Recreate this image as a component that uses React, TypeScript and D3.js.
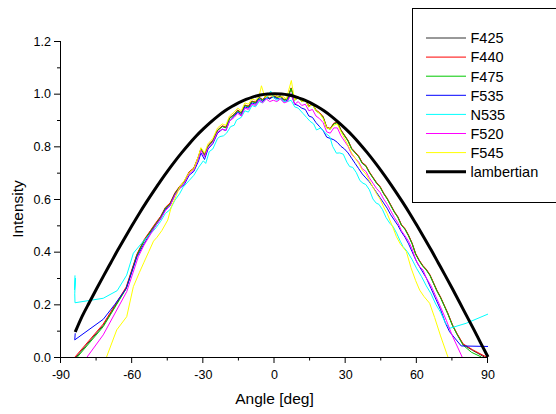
import React from "react";
import * as d3 from "d3";

type Pt = [number, number];

const ANGLE_TICKS = [-90, -60, -30, 0, 30, 60, 90];
const ANGLE_MINOR = [-75, -45, -15, 15, 45, 75];
const INTENSITY_TICKS = [0, 0.2, 0.4, 0.6, 0.8, 1.0, 1.2];
const INTENSITY_MINOR = [0.1, 0.3, 0.5, 0.7, 0.9, 1.1];
const SERIES_NAMES = ["F425", "F440", "F475", "F535", "N535", "F520", "F545", "lambertian"];
const SERIES_COLORS = ["#333333", "#ff0000", "#00c800", "#0000ff", "#00ffff", "#ff00ff", "#ffff00", "#000000"];

const F425: Pt[] = [[-83.6,0],[-72.2,0.12],[-62.5,0.262],[-58,0.388],[-55,0.442],[-52,0.482],[-50,0.507],[-48,0.532],[-46,0.566],[-44,0.582],[-42,0.621],[-40,0.646],[-38,0.666],[-36,0.701],[-34,0.716],[-32,0.761],[-31,0.79],[-29.5,0.766],[-28,0.801],[-26,0.821],[-24,0.861],[-22,0.876],[-20.5,0.871],[-19,0.906],[-17,0.921],[-15.5,0.936],[-14,0.926],[-12.5,0.956],[-11,0.951],[-9.5,0.971],[-8,0.966],[-6.5,0.985],[-5,0.976],[-3.5,0.99],[-2,0.981],[-0.5,0.99],[1,0.985],[2.5,0.99],[4,0.976],[5.5,0.981],[7,1.02],[8.5,0.976],[10,0.986],[11.5,0.971],[13,0.976],[14.5,0.951],[16,0.961],[17.5,0.936],[19,0.926],[20.5,0.911],[22,0.871],[23.5,0.866],[25,0.886],[26.5,0.891],[28,0.861],[29.5,0.841],[31,0.821],[32.5,0.791],[34,0.776],[35.5,0.761],[37,0.736],[38.5,0.726],[40,0.701],[41.5,0.681],[43,0.661],[44.5,0.646],[46,0.621],[47.5,0.601],[49,0.576],[50.5,0.551],[52,0.531],[53.5,0.501],[55,0.486],[56.5,0.461],[58,0.431],[59.5,0.391],[61,0.366],[62.5,0.346],[64,0.331],[65.5,0.311],[67,0.281],[68.5,0.251],[70,0.226],[71.5,0.196],[73,0.166],[75,0.121],[77,0.086],[79.5,0.047],[83.5,0.025],[88.5,0]];

const F440: Pt[] = [[-84.1,0],[-72.2,0.125],[-62.5,0.266],[-58,0.39],[-55,0.445],[-52,0.484],[-50,0.51],[-48,0.534],[-46,0.568],[-44,0.585],[-42,0.623],[-40,0.648],[-38,0.668],[-36,0.703],[-34,0.718],[-32,0.763],[-31,0.792],[-29.5,0.768],[-28,0.803],[-26,0.823],[-24,0.862],[-22,0.878],[-20.5,0.873],[-19,0.908],[-17,0.922],[-15.5,0.938],[-14,0.928],[-12.5,0.957],[-11,0.953],[-9.5,0.972],[-8,0.968],[-6.5,0.987],[-5,0.978],[-3.5,0.992],[-2,0.983],[-0.5,0.992],[1,0.987],[2.5,0.992],[4,0.978],[5.5,0.983],[7,1.022],[8.5,0.978],[10,0.987],[11.5,0.973],[13,0.978],[14.5,0.953],[16,0.962],[17.5,0.938],[19,0.928],[20.5,0.913],[22,0.873],[23.5,0.868],[25,0.888],[26.5,0.892],[28,0.863],[29.5,0.843],[31,0.823],[32.5,0.793],[34,0.778],[35.5,0.763],[37,0.738],[38.5,0.728],[40,0.703],[41.5,0.683],[43,0.663],[44.5,0.648],[46,0.623],[47.5,0.603],[49,0.578],[50.5,0.553],[52,0.533],[53.5,0.503],[55,0.488],[56.5,0.463],[58,0.433],[59.5,0.393],[61,0.368],[62.5,0.348],[64,0.333],[65.5,0.313],[67,0.283],[68.5,0.253],[70,0.228],[71.5,0.198],[73,0.168],[75,0.123],[77,0.088],[79.5,0.05],[83.6,0.027],[89.3,0]];

const F475: Pt[] = [[-83.1,0],[-72.2,0.115],[-62.5,0.26],[-58,0.385],[-55,0.44],[-52,0.48],[-50,0.505],[-48,0.53],[-46,0.565],[-44,0.58],[-42,0.62],[-40,0.645],[-38,0.665],[-36,0.7],[-34,0.715],[-32,0.76],[-31,0.79],[-29.5,0.765],[-28,0.8],[-26,0.82],[-24,0.86],[-22,0.875],[-20.5,0.87],[-19,0.905],[-17,0.92],[-15.5,0.935],[-14,0.925],[-12.5,0.955],[-11,0.95],[-9.5,0.97],[-8,0.965],[-6.5,0.985],[-5,0.975],[-3.5,0.99],[-2,0.98],[-0.5,0.99],[1,0.985],[2.5,0.99],[4,0.975],[5.5,0.98],[7,1.02],[8.5,0.975],[10,0.985],[11.5,0.97],[13,0.975],[14.5,0.95],[16,0.96],[17.5,0.935],[19,0.925],[20.5,0.91],[22,0.87],[23.5,0.865],[25,0.885],[26.5,0.89],[28,0.86],[29.5,0.84],[31,0.82],[32.5,0.79],[34,0.775],[35.5,0.76],[37,0.735],[38.5,0.725],[40,0.7],[41.5,0.68],[43,0.66],[44.5,0.645],[46,0.62],[47.5,0.6],[49,0.575],[50.5,0.55],[52,0.53],[53.5,0.5],[55,0.485],[56.5,0.46],[58,0.43],[59.5,0.39],[61,0.365],[62.5,0.345],[64,0.33],[65.5,0.31],[67,0.28],[68.5,0.25],[70,0.225],[71.5,0.195],[73,0.165],[75,0.12],[77,0.085],[79.5,0.045],[83,0.018],[87.2,0]];

const F535: Pt[] = [[-84,0.09],[-84.2,0.065],[-72.2,0.143],[-67.3,0.2],[-62.5,0.26],[-58,0.38],[-55,0.43],[-52,0.475],[-50,0.5],[-48,0.525],[-46,0.56],[-44,0.575],[-42,0.615],[-40,0.64],[-38,0.655],[-36,0.69],[-34,0.705],[-32,0.745],[-31,0.775],[-29.5,0.75],[-28,0.79],[-26,0.81],[-24,0.85],[-22,0.865],[-20.5,0.86],[-19,0.895],[-17,0.915],[-15.5,0.93],[-14,0.92],[-12.5,0.95],[-11,0.945],[-9.5,0.965],[-8,0.96],[-6.5,0.98],[-5,0.97],[-3.5,0.985],[-2,0.98],[-0.5,0.99],[1,0.98],[2.5,0.985],[4,0.97],[5.5,0.975],[7,1.0],[8.5,0.96],[10,0.955],[11.5,0.945],[13,0.94],[14.5,0.915],[16,0.91],[17.5,0.89],[19,0.875],[20.5,0.86],[22,0.835],[23.5,0.83],[25,0.825],[26.5,0.815],[28,0.8],[29.5,0.79],[31,0.775],[32.5,0.755],[34,0.735],[35.5,0.715],[37,0.695],[38.5,0.68],[40,0.665],[41.5,0.645],[43,0.625],[44.5,0.605],[46,0.585],[47.5,0.565],[49,0.54],[50.5,0.52],[52,0.5],[53.5,0.475],[55,0.455],[56.5,0.43],[58,0.4],[60,0.36],[62,0.33],[64,0.3],[66,0.26],[68,0.22],[70,0.18],[72,0.13],[73.8,0.096],[78.7,0.042],[90,0.04]];

const N535: Pt[] = [[-84.1,0.31],[-84.3,0.255],[-83.9,0.3],[-84.2,0.24],[-84.1,0.206],[-72.2,0.223],[-66.3,0.252],[-62.3,0.311],[-59.5,0.394],[-55.3,0.44],[-52,0.47],[-50,0.49],[-48,0.515],[-46,0.545],[-44,0.56],[-42,0.595],[-40,0.62],[-38.5,0.645],[-36,0.67],[-34,0.69],[-32,0.72],[-30,0.745],[-29,0.735],[-27.5,0.78],[-26,0.79],[-24,0.83],[-23,0.837],[-21.5,0.84],[-20.2,0.85],[-18.5,0.875],[-17,0.88],[-16,0.9],[-14,0.91],[-12.5,0.935],[-11,0.93],[-9.5,0.955],[-8,0.95],[-6.5,0.97],[-5,0.965],[-3.5,0.98],[-1.6,1.01],[-0.5,0.985],[1,0.975],[2.5,0.98],[4,0.97],[5.5,0.97],[7,0.975],[8.5,0.95],[10,0.945],[12,0.925],[13.5,0.91],[15,0.895],[16.5,0.885],[17.7,0.862],[19.5,0.87],[21.5,0.85],[23.3,0.837],[24.5,0.8],[26.1,0.774],[27.5,0.775],[29,0.77],[30.5,0.74],[31.7,0.723],[33,0.72],[34.5,0.7],[36,0.67],[37.3,0.66],[38.5,0.655],[40,0.635],[41.5,0.6],[42.9,0.584],[44,0.58],[45.5,0.56],[47,0.53],[48.6,0.508],[50,0.495],[51.5,0.47],[53,0.44],[54.2,0.419],[56,0.4],[58,0.37],[60,0.335],[62,0.305],[64,0.27],[66,0.24],[68,0.2],[70,0.17],[72,0.13],[73.8,0.109],[80.8,0.128],[90,0.163]];

const F520: Pt[] = [[-79,0],[-72.2,0.084],[-62.3,0.248],[-57.4,0.381],[-55,0.425],[-52,0.47],[-50,0.5],[-48,0.525],[-46,0.555],[-44,0.575],[-42,0.615],[-40,0.64],[-38,0.66],[-36,0.695],[-34,0.71],[-32,0.755],[-31,0.785],[-29.5,0.76],[-28,0.795],[-26,0.815],[-24,0.855],[-22,0.865],[-20.5,0.86],[-19,0.895],[-17,0.91],[-15.5,0.925],[-14,0.915],[-12.5,0.945],[-11,0.94],[-9.5,0.96],[-8,0.955],[-6.5,0.975],[-5,0.965],[-3.5,0.98],[-2,0.97],[-0.5,0.975],[1,0.97],[2.5,0.98],[4,0.965],[5.5,0.97],[7,1.0],[8.5,0.96],[10,0.97],[11.5,0.955],[13,0.96],[14.5,0.935],[16,0.94],[17.5,0.915],[19,0.905],[20.5,0.89],[22,0.855],[23.5,0.85],[25,0.87],[26.5,0.87],[28,0.84],[29.5,0.82],[31,0.8],[32.5,0.77],[34,0.755],[35.5,0.74],[37,0.715],[38.5,0.705],[40,0.68],[41.5,0.66],[43,0.64],[44.5,0.625],[46,0.6],[47.5,0.58],[49,0.555],[50.5,0.53],[52,0.51],[53.5,0.48],[55,0.46],[56.5,0.44],[58,0.41],[59.5,0.37],[61,0.345],[62.6,0.33],[64,0.3],[66,0.27],[68,0.23],[70,0.19],[72.4,0.14],[75,0.08],[79.1,0]];

const F545: Pt[] = [[-70.8,0],[-66.5,0.103],[-62.3,0.153],[-59.5,0.267],[-57,0.32],[-55,0.36],[-53,0.4],[-51,0.44],[-49.5,0.455],[-47.5,0.48],[-45,0.52],[-43.5,0.57],[-42,0.6],[-40,0.645],[-38,0.67],[-36,0.7],[-34,0.715],[-32,0.765],[-31,0.795],[-29.5,0.775],[-28,0.81],[-26,0.83],[-24,0.87],[-22,0.885],[-20.5,0.88],[-19,0.915],[-17,0.93],[-15.5,0.945],[-14,0.935],[-12.5,0.965],[-11,0.96],[-9.5,0.98],[-8,0.975],[-6.5,0.99],[-5.5,1.03],[-4,0.985],[-2.5,0.995],[-1,0.99],[0.5,0.995],[2,0.985],[3.5,0.99],[5,0.98],[7.1,1.05],[8.5,0.975],[10,0.99],[11.5,0.97],[13,0.975],[14.5,0.95],[16,0.96],[17.5,0.935],[19,0.925],[20.5,0.905],[22,0.87],[23.5,0.865],[25,0.88],[26.5,0.885],[28,0.855],[29.5,0.83],[31,0.805],[32.5,0.775],[34,0.755],[35.5,0.735],[37,0.71],[38.5,0.695],[40,0.67],[41.5,0.645],[43,0.62],[44.5,0.6],[46,0.57],[47.5,0.545],[48.6,0.52],[50,0.49],[51.4,0.457],[53,0.43],[55.6,0.4],[57.5,0.34],[59.5,0.29],[61.2,0.254],[63,0.23],[65.4,0.204],[67.5,0.15],[70,0.08],[73.1,0]];

const LAMBERTIAN: Pt[] = [[-84,0.095],[-81,0.156],[-78,0.208],[-75,0.259],[-72,0.309],[-69,0.358],[-66,0.407],[-63,0.454],[-60,0.5],[-57,0.545],[-54,0.588],[-51,0.629],[-48,0.669],[-45,0.707],[-42,0.743],[-39,0.777],[-36,0.809],[-33,0.839],[-30,0.866],[-27,0.891],[-24,0.914],[-21,0.934],[-18,0.951],[-15,0.966],[-12,0.978],[-9,0.988],[-6,0.995],[-3,0.999],[0,1.0],[3,0.999],[6,0.995],[9,0.988],[12,0.978],[15,0.966],[18,0.951],[21,0.934],[24,0.914],[27,0.891],[30,0.866],[33,0.839],[36,0.809],[39,0.777],[42,0.743],[45,0.707],[48,0.669],[51,0.629],[54,0.588],[57,0.545],[60,0.5],[63,0.454],[66,0.407],[69,0.358],[72,0.309],[75,0.259],[78,0.208],[81,0.156],[84,0.105],[87,0.052],[90,0]];

const SERIES_DATA: Pt[][] = [F425, F440, F475, F535, N535, F520, F545, LAMBERTIAN];

export default function App() {
  const W = 556;
  const H = 414;
  const x = d3.scaleLinear().domain([-90, 90]).range([61, 488]);
  const y = d3.scaleLinear().domain([0, 1.2]).range([357, 41]);
  const line = d3.line<Pt>().x((d) => x(d[0])).y((d) => y(d[1]));
  const smooth = d3.line<Pt>().x((d) => x(d[0])).y((d) => y(d[1])).curve(d3.curveMonotoneX);
  const font = "Arial, 'Liberation Sans', Helvetica, sans-serif";
  const x0 = x(-90);
  const y0 = y(0);
  const legendX = 412.5;
  const legendY = 8.5;
  const rowH = 19.1;

  return (
    <svg width={W} height={H} style={{ position: "absolute", left: 0, top: 0, background: "#fff" }} fontFamily={font}>
      <rect x={0} y={0} width={W} height={H} fill="#fff" />
      {SERIES_DATA.map((data, i) => (
        <path
          key={SERIES_NAMES[i]}
          d={(i === 7 ? smooth : line)(data) || ""}
          fill="none"
          stroke={SERIES_COLORS[i]}
          strokeWidth={i === 7 ? 3 : 1}
          strokeLinejoin="round"
        />
      ))}
      {/* axes */}
      <line x1={x0} x2={x(90)} y1={y0 + 0.5} y2={y0 + 0.5} stroke="#000" strokeWidth={1} />
      <line x1={x0 - 0.5} x2={x0 - 0.5} y1={y(1.2)} y2={y0 + 0.5} stroke="#000" strokeWidth={1} />
      {ANGLE_TICKS.map((t) => (
        <g key={"xt" + t}>
          <line x1={x(t) - 0.5} x2={x(t) - 0.5} y1={y0} y2={y0 + 6} stroke="#000" />
          <text x={x(t)} y={379} fontSize={12.5} textAnchor="middle" fill="#000">{t}</text>
        </g>
      ))}
      {ANGLE_MINOR.map((t) => (
        <line key={"xm" + t} x1={x(t) - 0.5} x2={x(t) - 0.5} y1={y0} y2={y0 + 3.5} stroke="#000" />
      ))}
      {INTENSITY_TICKS.map((t) => (
        <g key={"yt" + t}>
          <line x1={x0 - 7} x2={x0} y1={y(t) + 0.5} y2={y(t) + 0.5} stroke="#000" />
          <text x={51} y={y(t) + 4.5} fontSize={12.5} textAnchor="end" fill="#000">{t.toFixed(1)}</text>
        </g>
      ))}
      {INTENSITY_MINOR.map((t) => (
        <line key={"ym" + t} x1={x0 - 4} x2={x0} y1={y(t) + 0.5} y2={y(t) + 0.5} stroke="#000" />
      ))}
      <text x={x(0)} y={404} fontSize={15.5} textAnchor="middle" fill="#000">Angle [deg]</text>
      <text transform={`translate(23,${(y(0) + y(1.2)) / 2 + 10}) rotate(-90)`} fontSize={15.5} textAnchor="middle" fill="#000">Intensity</text>
      {/* legend */}
      <rect x={legendX} y={legendY} width={W - legendX + 2} height={194} fill="#fff" stroke="#000" strokeWidth={1} />
      {SERIES_NAMES.map((name, i) => {
        const ly = 38 + i * rowH;
        return (
          <g key={"lg" + name}>
            <line x1={426} x2={466} y1={ly} y2={ly} stroke={SERIES_COLORS[i]} strokeWidth={i === 7 ? 3 : 1} />
            <text x={470.5} y={ly + 5.3} fontSize={14.5} fill="#000">{name}</text>
          </g>
        );
      })}
    </svg>
  );
}
